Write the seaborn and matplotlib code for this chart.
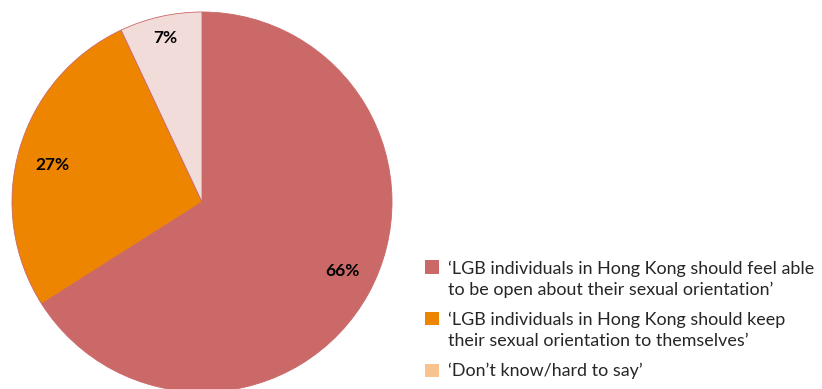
import matplotlib
matplotlib.use("Agg")
import matplotlib.pyplot as plt
from matplotlib.patches import Patch, Rectangle
from matplotlib.legend_handler import HandlerPatch
import numpy as np
import seaborn as sns

# Survey responses (share of respondents, %)
categories = [
    "\u2018LGB individuals in Hong Kong should feel able\nto be open about their sexual orientation\u2019",
    "\u2018LGB individuals in Hong Kong should keep\ntheir sexual orientation to themselves\u2019",
    "\u2018Don\u2019t know/hard to say\u2019",
]
shares = [66, 27, 7]

wedge_colors = ["#CB6868", "#EE8500", "#F2DCD9"]
legend_colors = ["#CB6868", "#EE8500", "#F8C38E"]

# label placement inside each wedge: radius fraction and angular nudge (deg)
label_radius = [0.825, 0.813, 0.884]
label_nudge = [2.7, 2.3, 0.0]

sns.set_theme(style="white")
plt.rcParams["font.family"] = ["Lato", "DejaVu Sans"]

fig = plt.figure(figsize=(8.22, 3.89), dpi=100)
ax = fig.add_axes([12 / 822, -3 / 389, 380 / 822, 380 / 389])

wedges, texts, autotexts = ax.pie(
    shares,
    colors=wedge_colors,
    startangle=90,
    counterclock=False,
    radius=1.0,
    autopct="%d%%",
    pctdistance=0.82,
    wedgeprops=dict(edgecolor="#CB6868", linewidth=0.6),
    textprops=dict(fontsize=12.5, fontweight="bold", color="black"),
)
for w, t, r, d in zip(wedges, autotexts, label_radius, label_nudge):
    ang = np.deg2rad((w.theta1 + w.theta2) / 2 + d)
    t.set_position((r * np.cos(ang), r * np.sin(ang)))

ax.set_xlim(-1, 1)
ax.set_ylim(-1, 1)
ax.set_aspect("equal")
ax.axis("off")


def top_aligned_square(nlines):
    """Legend key that sits level with the first line of a multi-line label."""
    def make_patch(legend, orig_handle, xdescent, ydescent, width, height, fontsize):
        shift = (nlines - 1) * 0.68 * fontsize
        return Rectangle((-xdescent, -ydescent + shift), width, height)
    return HandlerPatch(patch_func=make_patch)


handles = [Patch(facecolor=c, edgecolor="none") for c in legend_colors]
handler_map = {h: top_aligned_square(lbl.count("\n") + 1) for h, lbl in zip(handles, categories)}

leg = fig.legend(
    handles,
    categories,
    handler_map=handler_map,
    loc="upper left",
    bbox_to_anchor=(418 / 822, 1 - 253 / 389),
    frameon=False,
    fontsize=12.9,
    handlelength=0.77,
    handleheight=0.77,
    handletextpad=0.5,
    labelspacing=0.8,
    borderaxespad=0,
)
for t in leg.get_texts():
    t.set_linespacing(1.35)

fig.savefig("out.png", dpi=100)
